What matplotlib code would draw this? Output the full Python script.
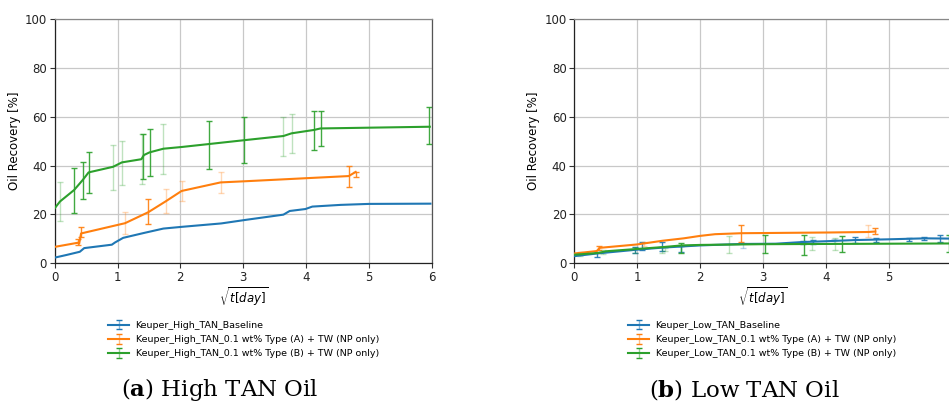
import matplotlib
matplotlib.use("Agg")
import matplotlib.pyplot as plt
import numpy as np

plt.rcParams["mathtext.fontset"] = "custom"
plt.rcParams["mathtext.bf"] = "DejaVu Serif:bold"
plt.rcParams["mathtext.it"] = "DejaVu Sans:italic"
plt.rcParams["mathtext.rm"] = "DejaVu Sans"

# colours (matplotlib tab10)
c_blue = "#1f77b4"
c_orange = "#ff7f0e"
c_green = "#2ca02c"

# ---------------- (a) High TAN ----------------
hi_base_x = [0, 0.19, 0.40, 0.47, 0.91, 0.96, 1.09, 1.42, 1.73, 2.02, 2.65, 3.05,
             3.64, 3.74, 3.99, 4.10, 4.55, 5.0, 5.98]
hi_base_y = [2.3, 3.4, 4.7, 6.2, 7.6, 8.5, 10.4, 12.4, 14.2, 14.9, 16.3, 17.8,
             19.9, 21.4, 22.2, 23.2, 23.9, 24.3, 24.4]

hi_a_x = [0, 0.37, 0.39, 0.42, 1.12, 1.49, 1.77, 2.02, 2.64, 3.05, 4.68, 4.79]
hi_a_y = [6.7, 8.4, 8.0, 12.2, 16.4, 20.9, 25.4, 29.6, 33.1, 33.6, 35.7, 37.4]

hi_b_x = [0, 0.085, 0.31, 0.45, 0.54, 0.93, 1.07, 1.38, 1.42, 1.51, 1.73, 2.02,
          2.45, 3.02, 3.64, 3.77, 4.13, 4.23, 5.97]
hi_b_y = [22.5, 25.3, 30.0, 34.2, 37.2, 39.5, 41.3, 42.6, 44.3, 45.4, 46.9, 47.6,
          48.8, 50.4, 52.1, 53.2, 54.6, 55.2, 55.9]

# error bars: x, lower, upper, shade (1 = dark, 0 = faint)
hi_a_ex = [0.37, 0.42, 1.12, 1.49, 1.77, 2.02, 2.64, 4.68, 4.79]
hi_a_lo = [7.5, 10.9, 11.9, 16.0, 20.7, 25.4, 28.6, 31.4, 35.2]
hi_a_hi = [10.0, 14.7, 21.1, 26.2, 30.3, 33.8, 37.2, 40.0, 37.4]
hi_a_dk = [1, 1, 0, 1, 0, 0, 0, 1, 1]

hi_b_ex = [0.085, 0.31, 0.45, 0.54, 0.93, 1.07, 1.39, 1.41, 1.51, 1.73, 2.45, 3.02,
           3.63, 3.78, 4.13, 4.24, 5.96]
hi_b_lo = [17.4, 20.5, 26.3, 28.6, 30.0, 31.9, 32.5, 34.6, 35.6, 36.4, 38.7, 40.9,
           43.9, 45.3, 46.5, 48.1, 48.7]
hi_b_hi = [33.2, 39.1, 41.6, 45.6, 48.3, 50.2, 52.8, 52.8, 55.1, 57.1, 58.2, 59.8,
           60.0, 61.0, 62.2, 62.2, 63.8]
hi_b_dk = [0, 1, 1, 1, 0, 0, 0, 1, 1, 0, 1, 1, 0, 0, 1, 1, 1]

# ---------------- (b) Low TAN ----------------
lo_base_x = [0, 0.36, 0.97, 1.40, 2.0, 2.66, 3.2, 3.64, 3.99, 4.47, 5.0, 5.58, 5.97]
lo_base_y = [2.9, 4.0, 5.5, 6.4, 7.3, 7.9, 8.0, 8.7, 9.0, 9.5, 9.8, 10.2, 10.1]

lo_a_x = [0, 0.36, 0.40, 1.0, 1.40, 1.74, 2.0, 2.24, 2.66, 4.07, 4.68, 4.79]
lo_a_y = [4.0, 5.0, 6.3, 7.7, 9.2, 10.2, 11.2, 11.9, 12.3, 12.6, 12.8, 13.0]

lo_b_x = [0, 0.38, 0.5, 0.97, 1.40, 1.71, 2.0, 2.98, 5.96]
lo_b_y = [3.5, 4.2, 4.9, 5.8, 6.6, 7.3, 7.5, 7.8, 8.1]

lo_base_ex = [0.36, 0.97, 1.08, 1.39, 1.69, 2.69, 3.64, 3.80, 4.14, 4.46, 4.80, 5.32,
              5.57, 5.82]
lo_base_lo = [2.5, 4.0, 5.4, 5.0, 4.6, 6.1, 7.8, 8.0, 8.2, 8.2, 8.8, 9.2, 9.6, 8.5]
lo_base_hi = [4.6, 6.6, 8.8, 8.8, 7.1, 8.2, 9.2, 9.6, 9.8, 10.6, 10.4, 10.4, 10.6, 11.4]
lo_base_dk = [1, 1, 1, 1, 1, 0, 1, 1, 0, 1, 1, 1, 1, 1]

lo_a_ex = [0.40, 1.11, 2.65, 4.68, 4.79]
lo_a_lo = [5.3, 7.1, 8.8, 10.9, 11.9]
lo_a_hi = [6.9, 8.8, 15.7, 15.7, 14.6]
lo_a_dk = [1, 0, 1, 0, 1]

lo_b_ex = [0.085, 0.45, 0.97, 1.39, 1.45, 1.69, 2.46, 3.04, 3.65, 3.79, 4.15, 4.26, 5.96]
lo_b_lo = [2.8, 3.8, 4.0, 4.0, 4.9, 4.1, 4.1, 4.1, 3.4, 5.4, 5.3, 4.6, 4.6]
lo_b_hi = [4.6, 5.6, 6.6, 6.6, 6.3, 8.2, 11.2, 11.6, 11.6, 10.6, 10.4, 11.1, 11.6]
lo_b_dk = [0, 0, 0, 0, 0, 1, 0, 1, 1, 0, 0, 1, 1]

labels_hi = ["Keuper_High_TAN_Baseline",
             "Keuper_High_TAN_0.1 wt% Type (A) + TW (NP only)",
             "Keuper_High_TAN_0.1 wt% Type (B) + TW (NP only)"]
labels_lo = ["Keuper_Low_TAN_Baseline",
             "Keuper_Low_TAN_0.1 wt% Type (A) + TW (NP only)",
             "Keuper_Low_TAN_0.1 wt% Type (B) + TW (NP only)"]


def draw_bars(ax, ex, lo, hi, dk, color):
    ex = np.array(ex)
    lo = np.array(lo)
    hi = np.array(hi)
    dk = np.array(dk, dtype=bool)
    mid = (lo + hi) / 2.0
    half = (hi - lo) / 2.0
    for sel, a in ((~dk, 0.3), (dk, 0.9)):
        if sel.any():
            ax.errorbar(ex[sel], mid[sel], yerr=half[sel], fmt="none",
                        ecolor=color, elinewidth=1.0, capsize=2, capthick=1.0,
                        alpha=a)


def make_panel(ax, series, labels):
    handles = []
    for (x, y, bars), lab, col in zip(series, labels, [c_blue, c_orange, c_green]):
        ax.plot(x, y, color=col, lw=1.5, zorder=3)
        if bars is not None:
            draw_bars(ax, *bars, col)
        # legend proxy with an error bar glyph
        h = ax.errorbar([np.nan], [np.nan], yerr=[1], color=col, lw=1.5,
                        elinewidth=1.0, capsize=2, label=lab)
        h[2][0].set_alpha(0.5)
        handles.append(h)
    ax.set_xlim(0, 6)
    ax.set_ylim(0, 100)
    ax.set_xticks(range(7))
    ax.set_yticks(range(0, 101, 20))
    ax.grid(True, color="#c8c8c8", lw=0.9)
    ax.set_axisbelow(True)
    ax.tick_params(labelsize=8.5, length=3.5, width=0.8, color="#333333",
                   labelcolor="#222222", pad=2)
    ax.set_xlabel(r"$\sqrt{t[day]}$", fontsize=8.5, labelpad=1)
    ax.set_ylabel("Oil Recovery [%]", fontsize=8.5, labelpad=3)
    for s in ("left", "bottom"):
        ax.spines[s].set_color("#222222")
    ax.spines["top"].set_color("#888888")
    ax.spines["right"].set_color("#555555")
    for s in ax.spines.values():
        s.set_linewidth(0.9)
    return handles


fig = plt.figure(figsize=(9.49, 4.05), dpi=100)
ax1 = fig.add_axes([0.0576, 0.350, 0.3973, 0.6030])
ax2 = fig.add_axes([0.6052, 0.350, 0.3973, 0.6030])

h1 = make_panel(ax1, [
    (hi_base_x, hi_base_y, None),
    (hi_a_x, hi_a_y, (hi_a_ex, hi_a_lo, hi_a_hi, hi_a_dk)),
    (hi_b_x, hi_b_y, (hi_b_ex, hi_b_lo, hi_b_hi, hi_b_dk)),
], labels_hi)

h2 = make_panel(ax2, [
    (lo_base_x, lo_base_y, (lo_base_ex, lo_base_lo, lo_base_hi, lo_base_dk)),
    (lo_a_x, lo_a_y, (lo_a_ex, lo_a_lo, lo_a_hi, lo_a_dk)),
    (lo_b_x, lo_b_y, (lo_b_ex, lo_b_lo, lo_b_hi, lo_b_dk)),
], labels_lo)
# the right panel runs past the figure edge, its last label is cut away
ax2.set_xticklabels(["0", "1", "2", "3", "4", "5", ""])

leg_kw = dict(loc="upper left", frameon=False, fontsize=6.8, handlelength=2.2,
              handletextpad=0.7, labelspacing=0.55, borderaxespad=0)
fig.legend(handles=h1, labels=labels_hi, bbox_to_anchor=(0.110, 0.217), **leg_kw)
fig.legend(handles=h2, labels=labels_lo, bbox_to_anchor=(0.658, 0.217), **leg_kw)

cap_kw = dict(ha="center", va="center", fontsize=16.5, family="DejaVu Serif")
fig.text(0.232, 0.038, r"($\mathbf{a}$) High TAN Oil", **cap_kw)
fig.text(0.784, 0.038, r"($\mathbf{b}$) Low TAN Oil", **cap_kw)

fig.savefig("out.png", dpi=100)
